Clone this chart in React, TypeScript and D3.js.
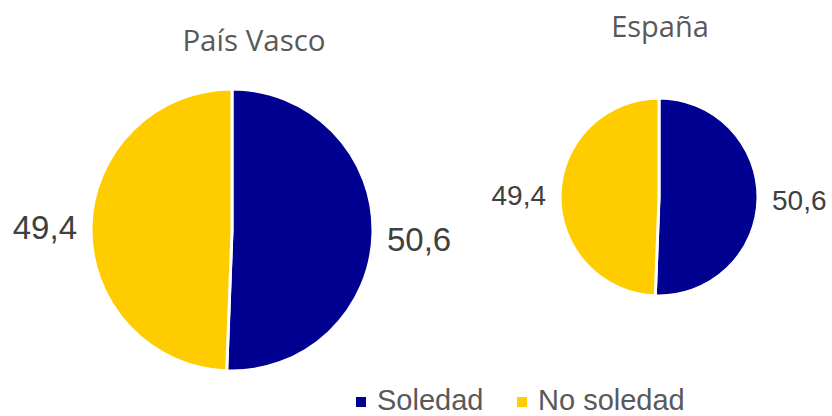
import React, { useEffect, useRef } from 'react';
import * as d3 from 'd3';

const categories = ['Soledad', 'No soledad'];
const colors = ['#000091', '#FFCC00'];
const regions = ['País Vasco', 'España'];
const paisVasco = [50.6, 49.4];
const espana = [50.6, 49.4];

const pies = [
  { title: regions[0], values: paisVasco, cx: 232, cy: 230, r: 141, titleX: 254, titleY: 51, titleSize: 29.5, labelSize: 33, labelOff: 14, labelDy: [9, -3] },
  { title: regions[1], values: espana, cx: 659, cy: 197, r: 99, titleX: 660, titleY: 37, titleSize: 29, labelSize: 28, labelOff: 14, labelDy: [3, -2] },
];

export default function App() {
  const ref = useRef<SVGSVGElement>(null);

  useEffect(() => {
    const svg = d3.select(ref.current);
    svg.selectAll('*').remove();

    const pie = d3.pie<number>().sort(null).value((d) => d);

    pies.forEach((p) => {
      const g = svg.append('g').attr('transform', `translate(${p.cx},${p.cy})`);
      const arc = d3.arc<d3.PieArcDatum<number>>().innerRadius(0).outerRadius(p.r);
      const arcs = pie(p.values);

      g.selectAll('path')
        .data(arcs)
        .enter()
        .append('path')
        .attr('d', arc)
        .attr('fill', (d, i) => colors[i])
        .attr('stroke', '#fff')
        .attr('stroke-width', 3);

      // labels sit beside the pie, left and right
      g.selectAll('text.lbl')
        .data(arcs)
        .enter()
        .append('text')
        .attr('class', 'lbl')
        .attr('x', (d) => {
          const mid = (d.startAngle + d.endAngle) / 2;
          return (mid < Math.PI ? 1 : -1) * (p.r + p.labelOff);
        })
        .attr('y', (d, i) => p.labelDy[i])
        .attr('dy', '0.35em')
        .attr('text-anchor', (d) => ((d.startAngle + d.endAngle) / 2 < Math.PI ? 'start' : 'end'))
        .attr('font-family', 'Liberation Sans, Arial, sans-serif')
        .attr('font-size', p.labelSize)
        .attr('fill', '#404040')
        .text((d) => d.data.toFixed(1).replace('.', ','));

      svg.append('text')
        .attr('x', p.titleX)
        .attr('y', p.titleY)
        .attr('text-anchor', 'middle')
        .attr('font-family', 'Open Sans, sans-serif')
        .attr('font-size', p.titleSize)
        .attr('fill', '#595959')
        .text(p.title);
    });

    const legend = svg.append('g').attr('transform', 'translate(356,401)');
    const offsets = [0, 161];
    categories.forEach((c, i) => {
      const item = legend.append('g').attr('transform', `translate(${offsets[i]},0)`);
      item.append('rect').attr('x', 0).attr('y', -4).attr('width', 10).attr('height', 10).attr('fill', colors[i]);
      item.append('text')
        .attr('x', 21)
        .attr('y', 0)
        .attr('dy', '0.3em')
        .attr('font-family', 'Liberation Sans, Arial, sans-serif')
        .attr('font-size', 29)
        .attr('fill', '#595959')
        .text(c);
    });
  }, []);

  return (
    <svg
      ref={ref}
      width={832}
      height={416}
      style={{ position: 'absolute', left: 0, top: 0, background: '#fff' }}
    />
  );
}
